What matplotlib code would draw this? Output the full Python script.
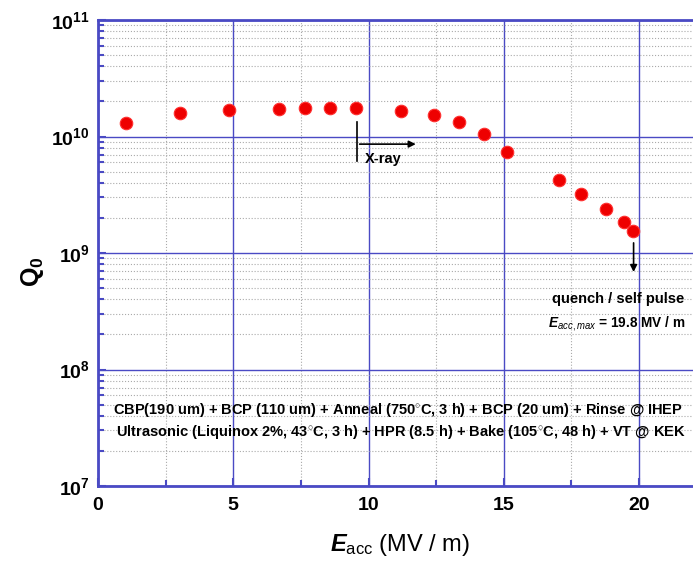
import matplotlib.pyplot as plt
import numpy as np
from matplotlib.ticker import MultipleLocator, LogLocator, FixedFormatter, NullFormatter

plt.rcParams['font.family'] = ['Liberation Sans', 'DejaVu Sans']
plt.rcParams['mathtext.fontset'] = 'custom'
plt.rcParams['mathtext.rm'] = 'Liberation Sans'
plt.rcParams['mathtext.it'] = 'Liberation Sans:italic'
plt.rcParams['mathtext.bf'] = 'Liberation Sans:bold'
plt.rcParams['mathtext.bfit'] = 'Liberation Sans:bold:italic'

# measured points
e_acc = [1.02, 3.03, 4.83, 6.69, 7.65, 8.58, 9.54, 11.19, 12.42, 13.33,
         14.27, 15.11, 17.05, 17.84, 18.77, 19.45, 19.77]
q0 = [1.30e10, 1.58e10, 1.69e10, 1.72e10, 1.74e10, 1.75e10, 1.75e10, 1.67e10,
      1.54e10, 1.33e10, 1.05e10, 7.4e9, 4.26e9, 3.19e9, 2.40e9, 1.85e9, 1.56e9]

x_ticks = [0, 5, 10, 15, 20, 25]
x_labels = ['0', '5', '10', '15', '20', '']
y_ticks = [1e7, 1e8, 1e9, 1e10, 1e11]
y_labels = [r'$\mathbf{10^{7}}$', r'$\mathbf{10^{8}}$', r'$\mathbf{10^{9}}$',
            r'$\mathbf{10^{10}}$', r'$\mathbf{10^{11}}$']

line1 = 'CBP(190 um) + BCP (110 um) + Anneal (750$^{\\circ}$C, 3 h) + BCP (20 um) + Rinse @ IHEP'
line2 = 'Ultrasonic (Liquinox 2%, 43$^{\\circ}$C, 3 h) + HPR (8.5 h) + Bake (105$^{\\circ}$C, 48 h) + VT @ KEK'

blue = '#4a4ac4'

fig = plt.figure(figsize=(6.93, 5.61), dpi=100)
ax = fig.add_axes([98 / 693, 1 - 486 / 561, 25 * 27.05 / 693, 466 / 561])

ax.set_yscale('log')
ax.set_xlim(0, 25)
ax.set_ylim(1e7, 1e11)

ax.xaxis.set_minor_locator(MultipleLocator(2.5))
ax.set_xticks(x_ticks)
ax.set_xticklabels(x_labels, fontsize=14, fontweight='bold')
ax.set_yticks(y_ticks)
ax.yaxis.set_major_formatter(FixedFormatter(y_labels))
ax.yaxis.set_minor_locator(LogLocator(base=10, subs=np.arange(2, 10)))
ax.yaxis.set_minor_formatter(NullFormatter())
ax.tick_params(axis='y', labelsize=14, pad=6)

ax.tick_params(which='both', direction='in', color=blue, width=1.5)
ax.tick_params(which='major', length=6)
ax.tick_params(which='minor', length=4)
ax.tick_params(axis='x', pad=8)

for s in ax.spines.values():
    s.set_color(blue)
    s.set_linewidth(2)

ax.grid(True, which='major', color=blue, linewidth=1.0)
ax.grid(True, which='minor', color='#aaaaaa', linestyle=':', linewidth=0.8)
ax.set_axisbelow(True)

ax.plot(e_acc, q0, 'o', color='#ee0000', markersize=9, markeredgecolor='#ff3030',
        markeredgewidth=0.8, zorder=5)

# X-ray marker
ax.plot([9.57, 9.57], [1.34e10, 6.2e9], color='black', linewidth=1.2, zorder=6)
ax.annotate('', xy=(11.85, 8.6e9), xytext=(9.57, 8.6e9),
            arrowprops=dict(arrowstyle='-|>', color='black', lw=1.2, mutation_scale=10))
ax.text(9.85, 6.4e9, 'X-ray', fontsize=10.5, fontweight='bold', va='center')

# quench marker
ax.annotate('', xy=(19.8, 6.5e8), xytext=(19.8, 1.29e9),
            arrowprops=dict(arrowstyle='-|>', color='black', lw=1.2, mutation_scale=10))
ax.text(16.8, 4.0e8, 'quench / self pulse', fontsize=10.5, fontweight='bold', va='center')
ax.text(16.65, 2.5e8, r'$\mathbfit{E}_{\mathit{acc,max}}$ = 19.8 MV / m', fontsize=9.8,
        fontweight='bold', va='center')

ax.text(0.55, 4.5e7, line1, fontsize=10.5, fontweight='bold', va='center')
ax.text(0.66, 2.9e7, line2, fontsize=10.5, fontweight='bold', va='center')

fig.text(400 / 693, 1 - 545 / 561, r'$\mathbfit{E}_{\mathregular{acc}}$ (MV / m)',
         fontsize=17, ha='center', va='center')
fig.text(32 / 693, 1 - 272 / 561, r'$\mathbf{Q}_{\mathbf{0}}$', fontsize=18,
         rotation=90, ha='center', va='center')

fig.savefig('out.png', dpi=100)
